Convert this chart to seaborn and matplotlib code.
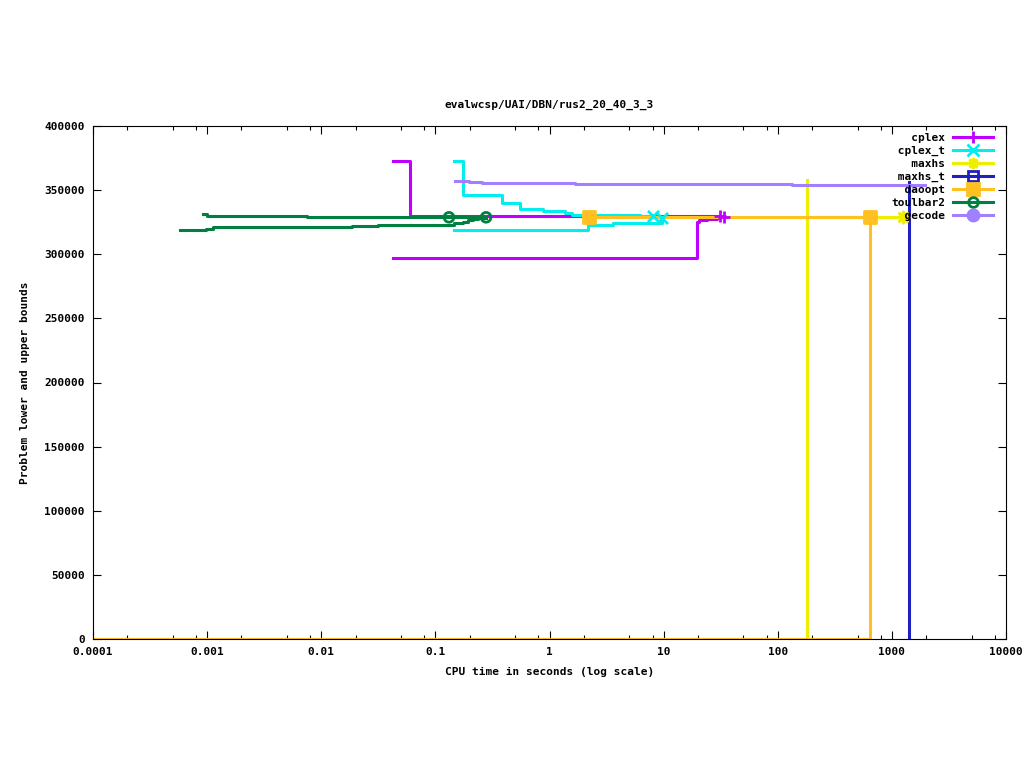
import pandas as pd
import matplotlib
matplotlib.use("Agg")
import matplotlib.pyplot as plt
import matplotlib.ticker as mticker
from matplotlib.lines import Line2D
import seaborn as sns

solvers = ["cplex", "cplex_t", "maxhs", "maxhs_t", "daoopt", "toulbar2", "gecode"]
colors = ["#c000ff", "#00eeee", "#eeee00", "#2020c0", "#ffc020", "#008040", "#a080ff"]

# step series: time (s) and bound value, upper (ub) / lower (lb)
cplex_ub_t = [0.0425, 0.060, 31.2]
cplex_ub_v = [372500, 329800, 329800]
cplex_lb_t = [0.0425, 19.6, 20.3, 24.0, 29.4, 33.8]
cplex_lb_v = [297100, 325400, 326700, 327500, 328800, 328800]

cplex_t_ub_t = [0.1455, 0.174, 0.384, 0.551, 0.877, 1.37, 1.57, 6.21, 8.07]
cplex_t_ub_v = [372500, 346200, 339700, 335000, 334000, 332400, 330800, 329500, 329500]
cplex_t_lb_t = [0.1455, 2.18, 3.60, 9.68]
cplex_t_lb_v = [318900, 322800, 324600, 328500]

maxhs_ub_t = [180.4, 180.4, 1252]
maxhs_ub_v = [357900, 329300, 329300]
maxhs_lb_t = [0.0001, 180.4, 1252]
maxhs_lb_v = [0, 329300, 329300]

maxhs_t_ub_t = [1413, 1413]
maxhs_t_ub_v = [356300, 329300]
maxhs_t_lb_t = [1413, 1413]
maxhs_t_lb_v = [0, 329300]

daoopt_ub_t = [2.24, 643]
daoopt_ub_v = [329300, 329300]
daoopt_lb_t = [0.0001, 643]
daoopt_lb_v = [0, 329300]

toulbar2_ub_t = [0.00092, 0.001, 0.0075, 0.278]
toulbar2_ub_v = [331400, 329600, 329000, 329000]
toulbar2_lb_t = [0.00058, 0.00098, 0.00113, 0.0186, 0.0314, 0.1455, 0.174, 0.1935, 0.215, 0.236, 0.278]
toulbar2_lb_v = [318700, 319900, 321000, 322000, 322800, 324200, 325400, 326700, 327700, 328500, 328600]

gecode_ub_t = [0.1475, 0.197, 0.256, 1.67, 133, 1950]
gecode_ub_v = [357100, 356100, 355300, 354500, 354000, 354000]

# points where gnuplot drew the point symbols
cplex_pts_t, cplex_pts_v = [31.2, 33.8], [329800, 328800]
cplex_t_pts_t, cplex_t_pts_v = [8.07, 9.68], [329500, 328500]
maxhs_pts_t, maxhs_pts_v = [1252], [329300]
maxhs_t_pts_t, maxhs_t_pts_v = [], []
daoopt_pts_t, daoopt_pts_v = [2.24, 643], [329300, 329300]
toulbar2_pts_t, toulbar2_pts_v = [0.1316, 0.278], [328800, 328800]
gecode_pts_t, gecode_pts_v = [], []

xtick_vals = [0.0001, 0.001, 0.01, 0.1, 1, 10, 100, 1000, 10000]
xtick_labels = ["0.0001", "0.001", "0.01", "0.1", "1", "10", "100", "1000", "10000"]
ytick_vals = [0, 50000, 100000, 150000, 200000, 250000, 300000, 350000, 400000]

series = {
    "cplex": [(cplex_ub_t, cplex_ub_v), (cplex_lb_t, cplex_lb_v)],
    "cplex_t": [(cplex_t_ub_t, cplex_t_ub_v), (cplex_t_lb_t, cplex_t_lb_v)],
    "maxhs": [(maxhs_ub_t, maxhs_ub_v), (maxhs_lb_t, maxhs_lb_v)],
    "maxhs_t": [(maxhs_t_ub_t, maxhs_t_ub_v), (maxhs_t_lb_t, maxhs_t_lb_v)],
    "daoopt": [(daoopt_ub_t, daoopt_ub_v), (daoopt_lb_t, daoopt_lb_v)],
    "toulbar2": [(toulbar2_ub_t, toulbar2_ub_v), (toulbar2_lb_t, toulbar2_lb_v)],
    "gecode": [(gecode_ub_t, gecode_ub_v)],
}
points = {
    "cplex": (cplex_pts_t, cplex_pts_v),
    "cplex_t": (cplex_t_pts_t, cplex_t_pts_v),
    "maxhs": (maxhs_pts_t, maxhs_pts_v),
    "maxhs_t": (maxhs_t_pts_t, maxhs_t_pts_v),
    "daoopt": (daoopt_pts_t, daoopt_pts_v),
    "toulbar2": (toulbar2_pts_t, toulbar2_pts_v),
    "gecode": (gecode_pts_t, gecode_pts_v),
}
# marker, filled
symbols = {
    "cplex": ("+", True),
    "cplex_t": ("x", True),
    "maxhs": ((8, 2, 0), True),
    "maxhs_t": ("s", False),
    "daoopt": ("s", True),
    "toulbar2": ("o", False),
    "gecode": ("o", True),
}
msizes = {"cplex": 8, "cplex_t": 8, "maxhs": 8, "maxhs_t": 7, "daoopt": 9, "toulbar2": 7, "gecode": 8}

plt.rcParams["font.family"] = ["DejaVu Sans Mono"]
plt.rcParams["font.weight"] = "bold"
plt.rcParams["font.size"] = 8

fig = plt.figure(figsize=(10.24, 7.68), dpi=100)
ax = fig.add_axes([93 / 1024, 129 / 768, 913 / 1024, 513 / 768])
ax.set_xscale("log")

lw = 2.2
for name, color in zip(solvers, colors):
    for t, v in series[name]:
        df = pd.DataFrame({"time": t, "bound": v})
        sns.lineplot(data=df, x="time", y="bound", ax=ax, color=color, lw=lw,
                     estimator=None, sort=False, drawstyle="steps-post", legend=False)
    pt, pv = points[name]
    if pt:
        m, filled = symbols[name]
        sns.scatterplot(x=pt, y=pv, ax=ax, marker=m, s=msizes[name] ** 2,
                        color=color, edgecolor=color,
                        facecolor=color if filled else "none",
                        linewidth=2, legend=False, zorder=3, clip_on=False)

ax.set_xlim(0.0001, 10000)
ax.set_ylim(0, 400000)
ax.set_xticks(xtick_vals)
ax.set_xticklabels(xtick_labels)
ax.xaxis.set_minor_locator(mticker.LogLocator(base=10, subs=(2, 5, 8), numticks=20))
ax.xaxis.set_minor_formatter(mticker.NullFormatter())
ax.set_yticks(ytick_vals)
ax.set_yticklabels([str(v) for v in ytick_vals])

ax.tick_params(which="both", direction="in", top=True, right=True, width=0.8, colors="black")
ax.tick_params(which="major", length=6)
ax.tick_params(which="minor", length=3)
ax.tick_params(axis="y", pad=6)
ax.tick_params(axis="x", pad=6)
for s in ax.spines.values():
    s.set_linewidth(0.8)
    s.set_color("black")

ax.set_title("evalwcsp/UAI/DBN/rus2_20_40_3_3", fontsize=8, fontweight="bold", pad=13)
ax.set_xlabel("CPU time in seconds (log scale)", fontsize=8, fontweight="bold", labelpad=7)
ax.set_ylabel("Problem lower and upper bounds", fontsize=8, fontweight="bold", labelpad=10)

handles = []
for name, color in zip(solvers, colors):
    m, filled = symbols[name]
    handles.append(Line2D([], [], color=color, lw=lw, marker=m, ms=msizes[name],
                          mec=color, mfc=color if filled else "none", mew=2))
width = max(len(s) for s in solvers)
leg = ax.legend(handles, [s.rjust(width) for s in solvers], loc="upper right",
                bbox_to_anchor=(993 / 1024, (768 - 133) / 768), bbox_transform=fig.transFigure,
                frameon=False, markerfirst=False, handlelength=3.6, handletextpad=0.7,
                labelspacing=0.26, borderpad=0, borderaxespad=0, fontsize=8,
                prop={"family": "DejaVu Sans Mono", "weight": "bold", "size": 8})

fig.savefig("out.png", dpi=100)
